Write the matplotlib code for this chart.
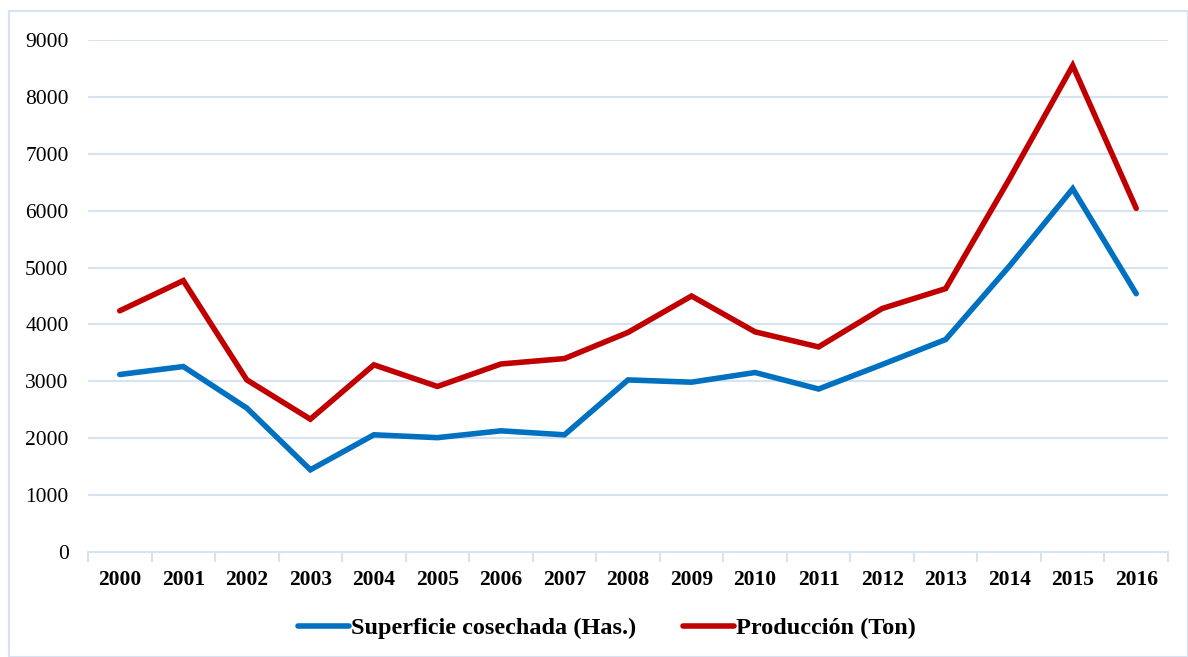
import matplotlib.pyplot as plt
from matplotlib.patches import Rectangle

# ==============================
# DATA
# ==============================
years = [str(y) for y in range(2000, 2017)]
superficie = [3120, 3260, 2530, 1445, 2060, 2010, 2130, 2060, 3025, 2985, 3155,
              2865, 3295, 3735, 5020, 6385, 4540]
produccion = [4240, 4770, 3025, 2335, 3290, 2910, 3305, 3400, 3860, 4500, 3870,
              3605, 4280, 4630, 6550, 8550, 6040]

BLUE = "#0070C0"
RED = "#C00000"
GRID = "#D6E3F2"

plt.rcParams["font.family"] = ["Liberation Serif", "DejaVu Serif"]

fig = plt.figure(figsize=(11.88, 6.57), dpi=100)
ax = fig.add_axes([88 / 1188, 1 - 552 / 657, (1168 - 88) / 1188, (552 - 40) / 657])

# outer chart border
fig.patches.append(Rectangle((9 / 1188, 0), 1 - 9 / 1188, 1 - 11 / 657,
                             transform=fig.transFigure, fill=False,
                             edgecolor=GRID, linewidth=1.5))

x = range(len(years))
ax.plot(x, superficie, color=BLUE, linewidth=4, solid_capstyle="round",
        solid_joinstyle="miter", label="Superficie cosechada (Has.)")
ax.plot(x, produccion, color=RED, linewidth=4, solid_capstyle="round",
        solid_joinstyle="miter", label="Producción (Ton)")

ax.set_xlim(-0.5, len(years) - 0.5)
ax.set_ylim(0, 9000)
ax.set_yticks(range(0, 9001, 1000))
ax.tick_params(axis="y", length=0, labelsize=15.5, pad=14)
ax.grid(axis="y", color=GRID, linewidth=1.5)
ax.set_axisbelow(True)

ax.set_xticks(x)
ax.set_xticklabels(years, fontsize=15.5, fontweight="bold")
ax.set_xticks([i - 0.5 for i in range(len(years) + 1)], minor=True)
ax.tick_params(axis="x", which="major", length=0, pad=13)
ax.tick_params(axis="x", which="minor", length=7, color=GRID, width=1.5)

for s in ["top", "right", "left"]:
    ax.spines[s].set_visible(False)
ax.spines["bottom"].set_color(GRID)
ax.spines["bottom"].set_linewidth(1.5)

leg = fig.legend(loc="center", bbox_to_anchor=(0.511, 1 - 628 / 657), ncol=2,
                 frameon=False, prop={"size": 17.5, "weight": "bold"},
                 handlelength=2.1, handletextpad=0.1, columnspacing=1.9)

fig.savefig("out.png", dpi=100)
